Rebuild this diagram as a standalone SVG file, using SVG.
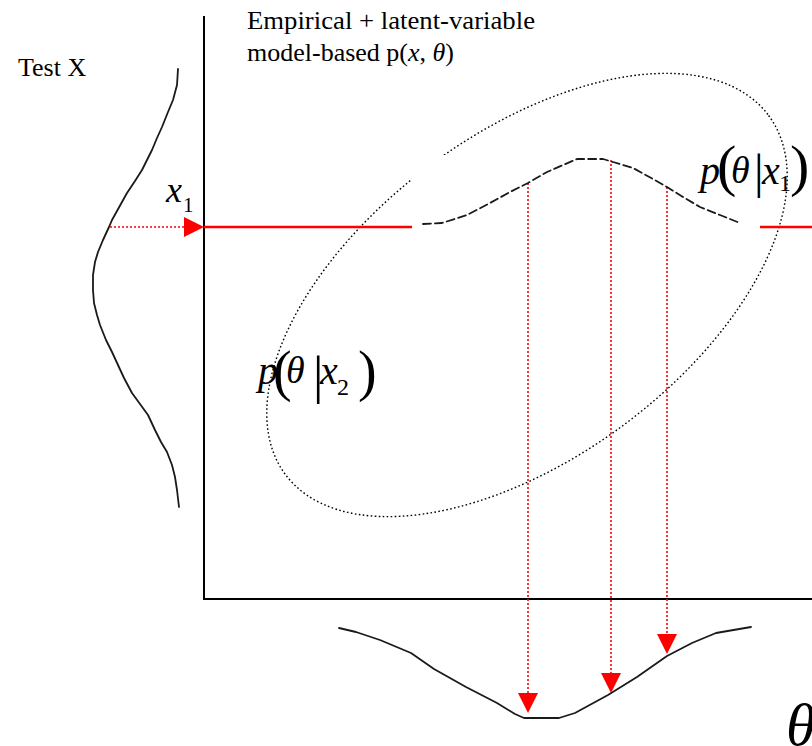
<svg xmlns="http://www.w3.org/2000/svg" width="812" height="746" viewBox="0 0 812 746">
<style>
.t{font-family:"Liberation Serif","Times New Roman",serif;fill:#000}
.i{font-style:italic}
.axis{stroke:#000;stroke-width:2;fill:none}
.curve{stroke:#1a1a1a;stroke-width:1.8;fill:none;stroke-linejoin:round;stroke-linecap:round}
.rdot{stroke:#f00;stroke-width:1.6;stroke-dasharray:2 2;fill:none}
.rsolid{stroke:#f00;stroke-width:2.5;fill:none}
.ah{fill:#f00}
</style>
<rect width="812" height="746" fill="#fff"/>
<g id="title">
<text class="t" x="247" y="29" font-size="26" textLength="288" lengthAdjust="spacingAndGlyphs">Empirical + latent-variable</text>
<text class="t" x="247" y="61" font-size="26">model-based p(<tspan class="i">x</tspan>, <tspan class="i">θ</tspan>)</text>
</g>
<g id="testx-label"><text class="t" x="18" y="76" font-size="26">Test X</text></g>
<g id="axes">
<line class="axis" x1="204" y1="16" x2="204" y2="599"/>
<line class="axis" x1="203" y1="599" x2="812" y2="599"/>
</g>
<g id="joint-ellipse">
<ellipse cx="527" cy="295" rx="301" ry="162" transform="rotate(-36.6 527 295)" fill="none" stroke="#000" stroke-width="1.4" stroke-dasharray="1.6 2.4"/>
</g>
<g id="testx-distribution">
<polyline class="curve" points="178,69 177,85 173,100 168,112 162,127 157,138 152,150 147,160 142,170 135,181 127,193 122,202 117,211 112,220 109,227 103,240 98,252 95,262 93,275 93,290 94,303 97,315 100,325 106,340 112,352 118,365 124,378 132,393 140,404 148,415 155,430 161,442 167,452 172,465 175,477 177,490 179,507"/>
</g>
<g id="connectors">
<line class="rsolid" x1="204" y1="227" x2="412" y2="227"/>
<line class="rsolid" x1="760" y1="227" x2="812" y2="227"/>
<rect x="412" y="155" width="348" height="78" fill="#fff"/>
<line class="rdot" x1="110" y1="227" x2="186" y2="227"/>
<polygon class="ah" points="184,217 204,227 184,237"/>
<line class="rdot" x1="528" y1="183" x2="528" y2="695"/>
<polygon class="ah" points="518,693 538,693 528,713"/>
<line class="rdot" x1="611" y1="160" x2="611" y2="675"/>
<polygon class="ah" points="601,673 621,673 611,693"/>
<line class="rdot" x1="667" y1="187" x2="667" y2="636"/>
<polygon class="ah" points="657,634 677,634 667,654"/>
</g>
<g id="posterior-x1">
<polyline class="curve" stroke-width="2" stroke-dasharray="8 4" points="423,224 442,223 467,215 490,203 510,192 528,183 547,172 577,159 603,159 613,162 633,168 653,179 667,187 683,197 700,207 720,215 740,223"/>
</g>
<g id="theta-distribution">
<polyline class="curve" points="339,628 356,632 380,640 411,653 434,669 466,687 497,703 515,714 524,718 559,718 575,713 608,695 637,677 667,656 692,643 716,633 751,627"/>
</g>
<g id="x1-label">
<text class="t i" x="166" y="202" font-size="36">x</text>
<text class="t" x="183" y="212" font-size="21">1</text>
</g>
<g id="label-p-x1">
<text class="t i" x="700" y="184" font-size="40">p</text>
<text class="t" x="717" y="185" font-size="58">(</text>
<text class="t i" x="731" y="183" font-size="38">θ</text>
<text class="t" x="754" y="188" font-size="48">|</text>
<text class="t i" x="762" y="184" font-size="40">x</text>
<text class="t" x="779" y="191" font-size="24">1</text>
<text class="t" x="790" y="185" font-size="58">)</text>
</g>
<g id="label-p-x2">
<text class="t i" x="258" y="384" font-size="40">p</text>
<text class="t" x="273" y="390" font-size="56">(</text>
<text class="t i" x="286" y="383" font-size="38">θ</text>
<text class="t" x="313" y="393" font-size="52">|</text>
<text class="t i" x="320" y="384" font-size="40">x</text>
<text class="t" x="337" y="395" font-size="24">2</text>
<text class="t" x="358" y="390" font-size="56">)</text>
</g>
<g id="theta-label">
<text class="t i" x="786" y="745" font-size="60">θ</text>
</g>
</svg>
